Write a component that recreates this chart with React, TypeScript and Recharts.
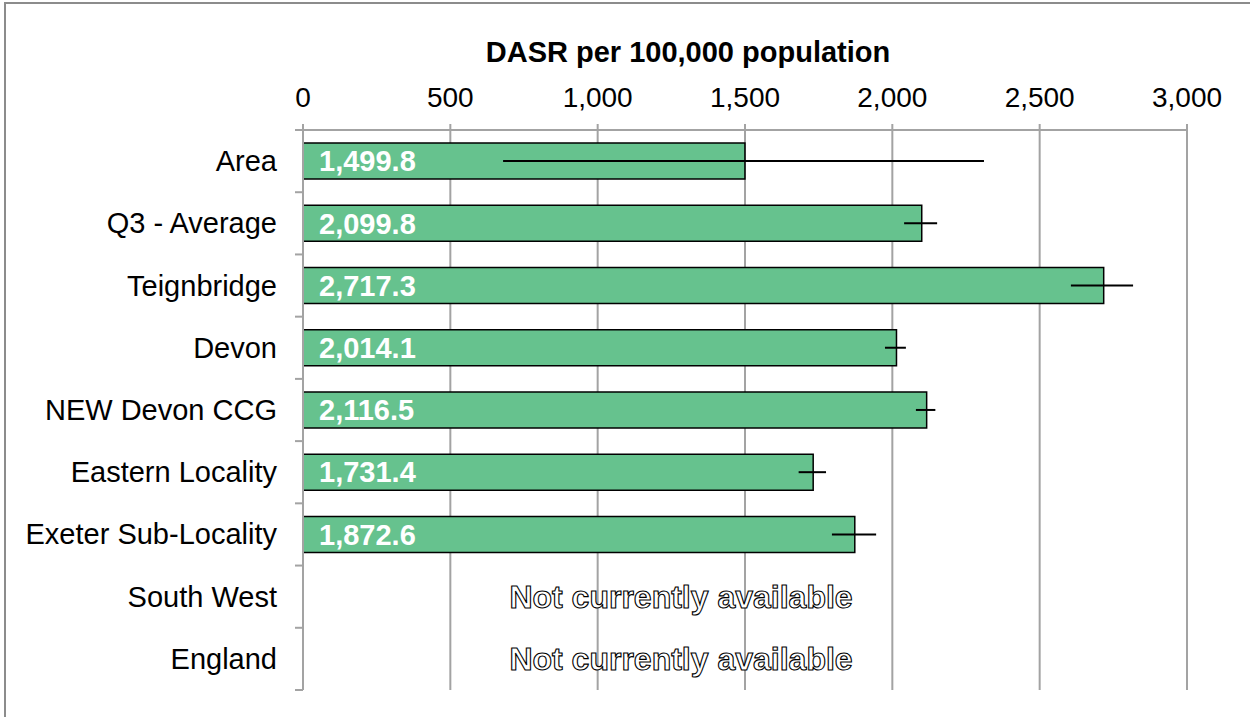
import React from 'react';
import {
  BarChart,
  Bar,
  XAxis,
  YAxis,
  CartesianGrid,
  ErrorBar,
  LabelList,
  ReferenceLine,
} from 'recharts';

const AREAS = [
  'Area',
  'Q3 - Average',
  'Teignbridge',
  'Devon',
  'NEW Devon CCG',
  'Eastern Locality',
  'Exeter Sub-Locality',
  'South West',
  'England',
];
const DASR = [1499.8, 2099.8, 2717.3, 2014.1, 2116.5, 1731.4, 1872.6, null, null];
const LOWER_CI = [679, 2040, 2606, 1975, 2080, 1682, 1795, null, null];
const UPPER_CI = [2311, 2152, 2817, 2046, 2146, 1775, 1945, null, null];
const X_TICKS = [0, 500, 1000, 1500, 2000, 2500, 3000];
const NA_TEXT = 'Not currently available';

const FONT = "'Liberation Sans', Arial, sans-serif";
const GRID = '#a3a3a3';
const BAR_GREEN = '#66c28e';

const rows = AREAS.map((name, i) => {
  const v = DASR[i];
  const lo = LOWER_CI[i];
  const hi = UPPER_CI[i];
  return {
    name,
    value: v,
    err: v != null && lo != null && hi != null ? [v - lo, hi - v] : undefined,
  };
});

const missing = rows.filter(r => r.value == null).map(r => r.name);

const fmt = (n: number, d = 0) =>
  n.toLocaleString('en-GB', { minimumFractionDigits: d, maximumFractionDigits: d });

const TICK_SIZE = 8;
const TICK_MARGIN = 18;

// category labels plus the small marks on the band boundaries (Excel style)
const AreaTick = (props: any) => {
  const { x, y, payload, index } = props;
  const off = payload.offset || 0;
  const ax = x + TICK_SIZE + TICK_MARGIN;
  return (
    <g>
      <line x1={ax - TICK_SIZE} x2={ax} y1={y - off} y2={y - off} stroke={GRID} strokeWidth={2} />
      {index === AREAS.length - 1 && (
        <line x1={ax - TICK_SIZE} x2={ax} y1={y + off} y2={y + off} stroke={GRID} strokeWidth={2} />
      )}
      <text x={x} y={y} dy={10} textAnchor="end" fontFamily={FONT} fontSize={29} fill="#000">
        {payload.value}
      </text>
    </g>
  );
};

const NaLabel = (props: any) => {
  const vb = props.viewBox || {};
  const cx = vb.x + vb.width / 2 - 64;
  return (
    <text
      x={cx}
      y={vb.y}
      dy={11}
      textAnchor="middle"
      fontFamily={FONT}
      fontWeight="bold"
      fontSize={32}
      fill="#fff"
      stroke="#000"
      strokeWidth={1.1}
    >
      {NA_TEXT}
    </text>
  );
};

export default function App() {
  return (
    <div
      style={{
        position: 'absolute',
        left: 0,
        top: 0,
        width: 1250,
        height: 717,
        overflow: 'hidden',
        background: '#fff',
      }}
    >
      <div
        style={{
          position: 'absolute',
          left: 4,
          top: 2,
          width: 1400,
          height: 900,
          border: '2px solid #8c8c8c',
        }}
      />
      <div
        style={{
          position: 'absolute',
          left: 0,
          width: 1376,
          top: 34,
          textAlign: 'center',
          fontFamily: FONT,
          fontWeight: 'bold',
          fontSize: 29,
          lineHeight: '36px',
          color: '#000',
        }}
      >
        DASR per 100,000 population
      </div>
      <div style={{ position: 'absolute', left: 0, top: 0 }}>
        <BarChart
          width={1250}
          height={717}
          data={rows}
          layout="vertical"
          margin={{ top: 0, right: 63, bottom: 27, left: 0 }}
          barCategoryGap="21%"
        >
          <CartesianGrid horizontal={false} vertical stroke={GRID} strokeWidth={2} />
          <XAxis
            type="number"
            orientation="top"
            domain={[0, 3000]}
            ticks={X_TICKS}
            interval={0}
            height={130}
            tickFormatter={(v: number) => fmt(v)}
            tick={{ fontFamily: FONT, fontSize: 28, fill: '#000' }}
            axisLine={{ stroke: GRID, strokeWidth: 2 }}
            tickLine={{ stroke: GRID, strokeWidth: 2 }}
            tickSize={6}
            tickMargin={17}
          />
          <YAxis
            type="category"
            dataKey="name"
            width={303}
            interval={0}
            tick={<AreaTick />}
            tickLine={false}
            tickSize={TICK_SIZE}
            tickMargin={TICK_MARGIN}
            axisLine={{ stroke: GRID, strokeWidth: 2 }}
          />
          <Bar dataKey="value" fill={BAR_GREEN} stroke="#000" strokeWidth={1.5} isAnimationActive={false}>
            <LabelList
              dataKey="value"
              position="insideLeft"
              offset={16}
              formatter={(v: any) => (v == null ? '' : fmt(Number(v), 1))}
              style={{ fontFamily: FONT, fontWeight: 'bold', fontSize: 29, fill: '#fff' }}
            />
            <ErrorBar dataKey="err" direction="x" width={0} stroke="#000" strokeWidth={2} />
          </Bar>
          {missing.map(name => (
            <ReferenceLine key={name} y={name} stroke="none" label={<NaLabel />} />
          ))}
        </BarChart>
      </div>
    </div>
  );
}
